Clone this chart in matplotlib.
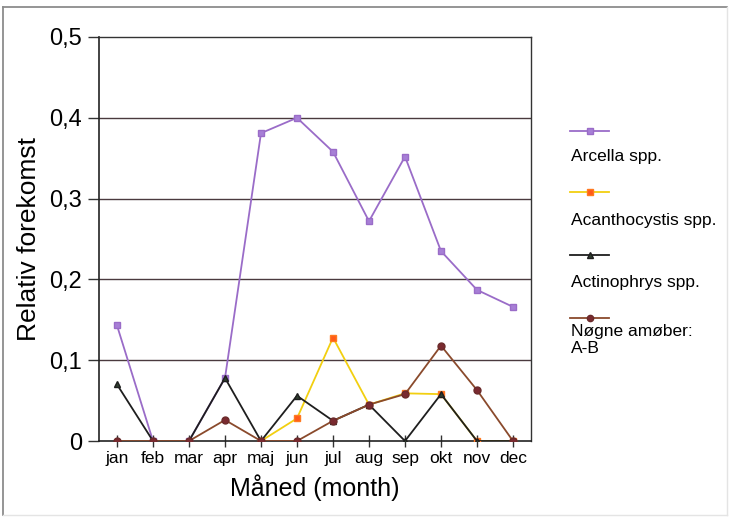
import matplotlib
matplotlib.use("Agg")
import matplotlib.pyplot as plt
from matplotlib.lines import Line2D

plt.rcParams['font.family'] = ['Liberation Sans', 'DejaVu Sans']

nan = float('nan')
months = ['jan', 'feb', 'mar', 'apr', 'maj', 'jun', 'jul', 'aug', 'sep', 'okt', 'nov', 'dec']
arcella = [0.143, 0.0, 0.0, 0.078, 0.381, 0.400, 0.358, 0.272, 0.352, 0.235, 0.187, 0.166]
acanthocystis = [nan, nan, nan, nan, 0.0, 0.028, 0.128, 0.045, 0.059, 0.058, 0.0, 0.0]
actinophrys = [0.070, 0.0, 0.0, 0.078, 0.0, 0.056, 0.025, 0.045, 0.0, 0.058, 0.0, 0.0]
nogne = [0.0, 0.0, 0.0, 0.026, 0.0, 0.0, 0.025, 0.045, 0.058, 0.118, 0.063, 0.0]
series_names = ['Arcella spp.', 'Acanthocystis spp.', 'Actinophrys spp.', 'Nøgne amøber:\nA-B']
yticks = [0, 0.1, 0.2, 0.3, 0.4, 0.5]
ytick_labels = ['0', '0,1', '0,2', '0,3', '0,4', '0,5']

styles = [
    dict(color='#9a6cc8', marker='s', mfc='#a77fd6', mec='#9a6cc8', ms=5, lw=1.3),
    dict(color='#f2cf10', marker='s', mfc='#ff5a1a', mec='#ff7a20', ms=5, lw=1.3),
    dict(color='#1e1e1e', marker='^', mfc='#2f3f2f', mec='#1e1e1e', ms=5, lw=1.3),
    dict(color='#8a4a2c', marker='o', mfc='#7a2a30', mec='#6a2a2a', ms=5, lw=1.3),
]
data = [arcella, acanthocystis, actinophrys, nogne]

fig = plt.figure(figsize=(7.30, 5.17), dpi=100)
# figure frame
fig.add_artist(Line2D([3/730, 3/730], [2/517, 1 - 7/517], transform=fig.transFigure,
                      color='#8c8c8c', lw=1.3))
fig.add_artist(Line2D([3/730, 727/730], [1 - 7/517, 1 - 7/517], transform=fig.transFigure,
                      color='#8c8c8c', lw=1.3))
fig.add_artist(Line2D([727/730, 727/730], [2/517, 1 - 7/517], transform=fig.transFigure,
                      color='#e4e4e4', lw=1.0))
fig.add_artist(Line2D([3/730, 727/730], [2/517, 2/517], transform=fig.transFigure,
                      color='#e4e4e4', lw=1.0))

ax = fig.add_axes([99/730, 1 - 441/517, 432/730, 404/517])

x = list(range(len(months)))
for vals, st in zip(data, styles):
    ax.plot(x, vals, zorder=3, **st)

ax.set_xlim(-0.5, 11.5)
ax.set_ylim(0, 0.5)
ax.set_yticks(yticks)
ax.set_yticklabels(ytick_labels, fontsize=17)
ax.set_xticks(x)
ax.set_xticklabels(months, fontsize=12.5)
for yv in yticks[1:-1]:
    ax.axhline(yv, color='#4a3a3e', lw=1.0, zorder=1)

ax.tick_params(axis='y', direction='out', length=8, width=1, color='#333333', pad=4)
ax.tick_params(axis='x', direction='inout', length=8, width=1, color='#333333', pad=3)
for side in ['left', 'bottom']:
    ax.spines[side].set_color('#222222')
    ax.spines[side].set_linewidth(1.2)
for side in ['top', 'right']:
    ax.spines[side].set_color('#333333')
    ax.spines[side].set_linewidth(1.0)

ax.set_xlabel('Måned (month)', fontsize=18, labelpad=6)
ax.set_ylabel('Relativ forekomst', fontsize=19, labelpad=6)

# legend: line sample above, text below
line_y = [131, 192, 255, 318]
text_y = [157, 220, 283, 340]
for name, st, ly, ty in zip(series_names, styles, line_y, text_y):
    fy = 1 - ly / 517
    fig.add_artist(Line2D([570/730, 609/730], [fy, fy], transform=fig.transFigure,
                          color=st['color'], lw=1.3))
    fig.add_artist(Line2D([589.5/730], [fy], transform=fig.transFigure, marker=st['marker'],
                          mfc=st['mfc'], mec=st['mec'], ms=4.5, lw=0))
    fig.text(571/730, 1 - ty / 517, name, fontsize=12.5, va='center', ha='left',
             linespacing=1.15)

fig.savefig('out.png', dpi=100)
